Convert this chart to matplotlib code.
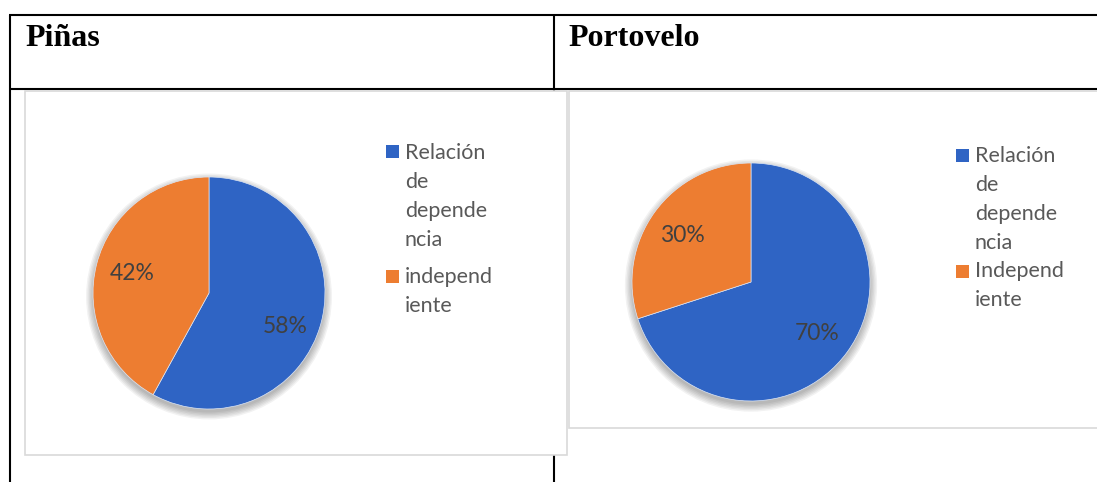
import numpy as np
import matplotlib.pyplot as plt
from matplotlib.patches import Rectangle, Circle

W, H = 1097, 482

categorias = ["Relación de dependencia", "Independiente"]
pinas_valores = [58, 42]
portovelo_valores = [70, 30]
pinas_leyenda = [["Relación", "de", "depende", "ncia"], ["independ", "iente"]]
portovelo_leyenda = [["Relación", "de", "depende", "ncia"], ["Independ", "iente"]]
colores = ["#2f64c4", "#ed7d31"]

fig = plt.figure(figsize=(W / 100, H / 100), dpi=100)
bg = fig.add_axes([0, 0, 1, 1])
bg.set_xlim(0, W)
bg.set_ylim(H, 0)
bg.axis("off")

# table borders
kw = dict(color="black", lw=1.5, solid_capstyle="butt")
bg.plot([9, W], [15, 15], **kw)
bg.plot([9, W], [89, 89], **kw)
bg.plot([9.5, 9.5], [15, H], **kw)
bg.plot([554, 554], [15, H], **kw)

bg.text(25, 46, "Piñas", fontfamily="Liberation Serif", fontweight="bold",
        fontsize=23, va="baseline")
bg.text(568, 46, "Portovelo", fontfamily="Liberation Serif", fontweight="bold",
        fontsize=23, va="baseline")

# chart frames
bg.add_patch(Rectangle((25, 91), 542, 364, fc="white", ec="#d9d9d9", lw=1.2, zorder=3))
bg.add_patch(Rectangle((569, 91), 600, 337, fc="white", ec="#d9d9d9", lw=1.2, zorder=3))


def dibujar_pie(cx, cy, r, valores, pctdist, giro):
    pad = 1.15
    s = r * pad
    ax = fig.add_axes([(cx - s) / W, 1 - (cy + s) / H, 2 * s / W, 2 * s / H])
    for i in range(6):
        ax.add_patch(Circle((0.0, -0.03), 1 + 0.012 * i, fc="black",
                            alpha=0.05, lw=0, zorder=0))
    wedges, _, autotexts = ax.pie(
        valores, colors=colores, startangle=90, counterclock=False,
        autopct="%1.0f%%", pctdistance=0.7,
        wedgeprops=dict(edgecolor="#dde6f5", linewidth=0.5),
        textprops=dict(color="#404040", fontsize=16.5, fontfamily="Lato"))
    # best-fit label placement (slight rotation from the slice middle)
    for w, t, g, d in zip(wedges, autotexts, giro, pctdist):
        ang = np.deg2rad((w.theta1 + w.theta2) / 2 + g)
        t.set_position((d * np.cos(ang), d * np.sin(ang)))
    ax.set_xlim(-pad, pad)
    ax.set_ylim(-pad, pad)
    ax.axis("off")
    return ax


def dibujar_leyenda(x_sq, x_txt, bloques, baselines, sq_tops):
    for k, lineas in enumerate(bloques):
        bg.add_patch(Rectangle((x_sq, sq_tops[k]), 13, 13, fc=colores[k], ec="none", zorder=4))
        for i, linea in enumerate(lineas):
            bg.text(x_txt, baselines[k] + i * 29, linea, fontfamily="Lato",
                    fontsize=15.5, color="#595959", va="baseline", zorder=5)


dibujar_pie(209, 293, 116, pinas_valores, [0.72, 0.68], [-9, 0])
dibujar_pie(751, 282, 119, portovelo_valores, [0.70, 0.70], [-2, 2])

dibujar_leyenda(386, 405, pinas_leyenda, [159, 283], [145, 270])
dibujar_leyenda(956, 975, portovelo_leyenda, [162, 277], [149, 265])

fig.savefig("out.png", dpi=100)
